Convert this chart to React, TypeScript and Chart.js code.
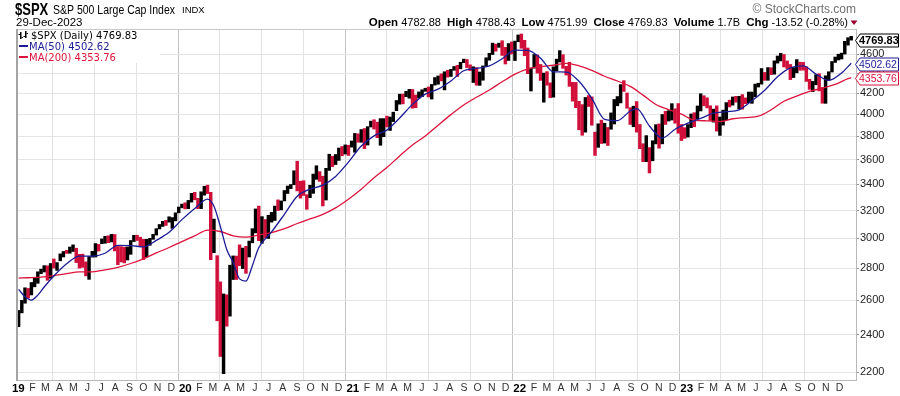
import React, { useEffect, useRef } from 'react';
import { Chart, registerables } from 'chart.js';

Chart.register(...registerables);

const FONT = '"Liberation Sans", Arial, Helvetica, sans-serif';
const LEGEND_FONT = '"DejaVu Sans", Verdana, sans-serif';

// Weekly $SPX bars (week ending Fri 4-Jan-2019 ... Fri 29-Dec-2023)
const weeklyClose = [
  2532,2596,2671,2665,2707,2708,2776,2793,2804,2743,2822,2801,2834,2893,2907,2905,2940,2946,2881,2860,2826,2752,2873,2887,2950,2942,2990,3014,2977,3026,2932,2919,2889,2847,2926,2979,3007,2992,2962,2952,2970,2986,3023,3067,3093,3120,3110,3141,3146,3169,3221,3240,
  3235,3265,3330,3295,3226,3328,3380,3338,2954,2972,2711,2305,2541,2489,2790,2875,2837,2831,2930,2864,2955,3044,3194,3041,3098,3009,3130,3185,3225,3216,3271,3351,3373,3397,3508,3427,3341,3319,3298,3348,3477,3484,3465,3270,3509,3585,3558,3638,3699,3663,3709,3703,3756,
  3825,3768,3841,3714,3887,3935,3907,3811,3842,3943,3913,3975,4020,4129,4185,4180,4181,4233,4174,4156,4204,4230,4247,4166,4281,4352,4370,4327,4412,4395,4437,4468,4442,4509,4535,4459,4433,4455,4357,4391,4471,4545,4605,4698,4683,4698,4595,4538,4712,4621,4726,4766,
  4677,4663,4398,4432,4501,4419,4349,4385,4329,4204,4463,4543,4546,4488,4393,4272,4132,4123,4024,3901,4158,4109,3901,3675,3912,3825,3899,3863,3962,4130,4145,4280,4228,4058,3924,4067,3873,3693,3586,3640,3583,3753,3901,3771,3993,3965,4026,4072,3934,3852,3845,3840,
  3895,3999,3973,4071,4136,4090,4079,3970,4046,3862,3917,3971,4109,4105,4138,4134,4169,4136,4124,4192,4205,4282,4299,4410,4348,4450,4399,4505,4536,4582,4478,4464,4370,4406,4516,4457,4450,4320,4288,4309,4328,4224,4117,4358,4415,4514,4559,4595,4604,4719,4755,4770,
];
const weeklyHigh = [
  2538,2598,2675,2671,2708,2738,2776,2793,2816,2815,2830,2860,2836,2894,2910,2918,2940,2955,2932,2891,2892,2841,2876,2911,2964,2958,2996,3014,3018,3028,3027,2944,2943,2939,2941,2985,3021,3022,3008,2993,2993,3000,3028,3068,3098,3121,3128,3154,3148,3183,3226,3248,
  3258,3276,3330,3338,3292,3342,3385,3394,3338,3137,2882,2712,2637,2632,2819,2880,2879,2955,2933,2945,2981,3068,3212,3233,3155,3134,3165,3186,3233,3280,3272,3352,3387,3399,3509,3588,3425,3429,3320,3393,3482,3550,3502,3465,3529,3646,3629,3644,3699,3712,3726,3723,3760,
  3826,3823,3861,3870,3887,3937,3950,3928,3960,3960,3983,3975,4020,4130,4191,4192,4219,4238,4237,4183,4213,4234,4249,4262,4287,4356,4372,4393,4415,4430,4440,4469,4481,4513,4546,4542,4486,4466,4457,4412,4475,4560,4608,4718,4707,4718,4744,4672,4713,4731,4740,4808,
  4819,4749,4665,4453,4595,4590,4490,4401,4416,4303,4465,4546,4637,4593,4471,4513,4308,4307,4123,4091,4159,4178,4165,3838,3913,3946,3918,3880,4013,4140,4168,4285,4325,4203,4062,4076,4120,3907,3736,3807,3703,3762,3905,3912,3998,4028,4034,4100,4052,4101,3906,3878,
  3906,4003,4015,4078,4195,4176,4156,4080,4048,4079,3975,4039,4110,4133,4164,4170,4170,4187,4155,4212,4212,4290,4299,4448,4408,4458,4456,4528,4579,4607,4595,4527,4490,4458,4541,4514,4512,4466,4338,4317,4385,4394,4256,4374,4415,4521,4568,4598,4610,4738,4778,4793,
];
const weeklyLow = [
  2444,2524,2581,2612,2631,2681,2703,2764,2775,2722,2735,2800,2785,2848,2873,2897,2898,2910,2836,2800,2805,2750,2728,2872,2873,2913,2963,2966,2970,2975,2914,2822,2840,2834,2853,2891,2978,2985,2946,2856,2874,2952,2993,3023,3066,3084,3091,3115,3070,3124,3183,3220,
  3212,3214,3263,3281,3214,3214,3316,3328,2855,2902,2478,2281,2192,2447,2505,2727,2727,2816,2797,2766,2873,2969,3038,2984,2966,3003,2999,3115,3127,3200,3205,3272,3329,3367,3397,3349,3293,3314,3209,3297,3330,3440,3424,3234,3279,3512,3543,3560,3594,3633,3648,3636,3707,
  3663,3749,3749,3694,3725,3884,3865,3789,3723,3798,3884,3853,3933,4034,4095,4098,4167,4152,4057,4062,4155,4167,4219,4164,4144,4280,4289,4322,4233,4360,4367,4430,4367,4445,4509,4458,4427,4306,4279,4278,4329,4470,4535,4595,4630,4672,4585,4495,4532,4600,4531,4733,
  4662,4582,4395,4222,4452,4401,4327,4114,4279,4157,4162,4425,4516,4450,4381,4268,4124,4062,3859,3810,3838,4073,3900,3636,3705,3738,3742,3721,3864,3911,4080,4107,4218,4057,3907,3886,3838,3693,3584,3584,3491,3591,3735,3698,3735,3907,3938,3947,3918,3828,3764,3783,
  3794,3878,3886,3958,4031,4080,4060,3944,3928,3847,3809,3901,3949,4069,4086,4114,4049,4048,4099,4109,4103,4166,4261,4290,4328,4328,4385,4390,4504,4527,4464,4448,4335,4356,4404,4430,4431,4317,4238,4216,4284,4223,4104,4103,4329,4412,4511,4537,4547,4600,4696,4751,
];

// Moving averages, at week numbers (1 = first week)
const ma50Week = [1,3,5,7,9,12,16,20,24,28,32,36,40,44,48,52,56,60,62,64,66,68,70,72,74,76,80,84,88,92,96,100,104,108,112,116,120,124,128,132,136,140,144,148,152,156,160,164,168,172,176,180,184,188,192,194,198,202,206,210,214,218,222,226,230,234,238,242,246,250,254,258,261];
const ma50Value = [2665,2620,2600,2630,2680,2749,2828,2879,2878,2898,2951,2950,2941,2986,3042,3133,3215,3286,3232,3084,2924,2836,2731,2717,2816,2936,3045,3172,3308,3363,3394,3463,3580,3716,3805,3856,3966,4093,4192,4241,4322,4425,4449,4476,4550,4642,4639,4555,4414,4412,4319,4150,3953,3942,4031,4053,3893,3786,3864,3919,3962,4010,4025,4042,4128,4230,4363,4454,4476,4391,4327,4402,4503];
const ma200Week = [1,4,8,12,16,20,24,28,32,36,40,44,48,52,56,60,64,68,72,76,80,84,88,92,96,100,104,108,112,116,120,124,128,132,136,140,144,148,152,156,160,164,168,172,176,180,184,188,192,196,200,204,208,212,216,220,224,228,232,236,240,244,248,252,256,260,261];
const ma200Value = [2736,2738,2742,2752,2765,2775,2776,2788,2805,2830,2861,2900,2937,2977,3017,3058,3048,3018,3008,3023,3040,3068,3105,3138,3172,3220,3285,3362,3453,3535,3632,3725,3803,3900,3997,4088,4161,4232,4313,4390,4445,4468,4482,4502,4476,4429,4369,4321,4267,4182,4092,4043,4001,3945,3940,3933,3959,3970,3982,4042,4123,4173,4218,4250,4287,4345,4354];

const yTickValues = [2200, 2400, 2600, 2800, 3000, 3200, 3400, 3600, 3800, 4000, 4200, 4400, 4600];
const monthInitials = ['J', 'F', 'M', 'A', 'M', 'J', 'J', 'A', 'S', 'O', 'N', 'D'];
const axisYears = [2019, 2020, 2021, 2022, 2023];

const endValues = [4769.83, 4502.62, 4353.76];
const quoteLabels = ['Open', 'High', 'Low', 'Close', 'Volume', 'Chg'];
const quoteValues = ['4782.88', '4788.43', '4751.99', '4769.83', '1.7B', '-13.52 (-0.28%)'];

const BAR_UP = '#000000';
const BAR_DOWN = '#d0103a';
const MA50_COLOR = '#1c1c96';
const MA200_COLOR = '#dc143c';

const BASE = Date.UTC(2018, 11, 29);
const monthTicks: { v: number; label: string; m: number }[] = [];
axisYears.forEach((y) =>
  monthInitials.forEach((l, m) =>
    monthTicks.push({ v: (Date.UTC(y, m, 1) - BASE) / 604800000, label: m === 0 ? String(y).slice(2) : l, m })
  )
);

const overlayPlugin = {
  id: 'overlay',
  afterDraw(chart: any) {
    const { ctx, chartArea: a } = chart;
    const ys = chart.scales.y;
    ctx.save();
    // plot frame
    ctx.strokeStyle = '#c8c8c8';
    ctx.lineWidth = 1;
    ctx.beginPath();
    ctx.moveTo(a.left, a.top + 0.5);
    ctx.lineTo(a.right, a.top + 0.5);
    ctx.stroke();
    ctx.fillStyle = '#a4a4a4';
    ctx.fillRect(a.left - 1, a.top, 2, a.bottom - a.top + 1);

    // in-plot legend
    ctx.fillStyle = '#ffffff';
    ctx.fillRect(a.left + 1, a.top + 1, 142, 33);
    ctx.textBaseline = 'alphabetic';
    ctx.textAlign = 'left';
    ctx.font = `10px ${LEGEND_FONT}`;
    ctx.fillStyle = '#000';
    ctx.fillRect(20, 32, 1.5, 7);
    ctx.fillRect(18.5, 34, 1.5, 1);
    ctx.fillRect(21.5, 37, 1.5, 1);
    ctx.fillRect(25, 31, 1.5, 7);
    ctx.fillRect(23.5, 36, 1.5, 1);
    ctx.fillRect(26.5, 33, 1.5, 1);
    ctx.fillText(`$SPX (Daily) ${endValues[0].toFixed(2)}`, 31, 39);
    ctx.fillStyle = MA50_COLOR;
    ctx.fillRect(19, 45, 9, 2);
    ctx.fillText(`MA(50) ${endValues[1].toFixed(2)}`, 29, 50);
    ctx.fillStyle = MA200_COLOR;
    ctx.fillRect(19, 56, 9, 2);
    ctx.fillText(`MA(200) ${endValues[2].toFixed(2)}`, 29, 61);

    // right-axis value flags
    const flags = [
      { v: endValues[0], color: '#000', font: `bold 11px ${FONT}`, dy: 2 },
      { v: endValues[1], color: MA50_COLOR, font: `10.5px ${FONT}`, dy: 0.5 },
      { v: endValues[2], color: MA200_COLOR, font: `10.5px ${FONT}`, dy: 0 },
    ];
    flags.forEach((f) => {
      const y = Math.round(ys.getPixelForValue(f.v) + f.dy) + 0.5;
      ctx.beginPath();
      ctx.moveTo(a.right - 0.5, y);
      ctx.lineTo(a.right + 4, y - 6.5);
      ctx.lineTo(898.5, y - 6.5);
      ctx.lineTo(898.5, y + 6.5);
      ctx.lineTo(a.right + 4, y + 6.5);
      ctx.closePath();
      ctx.fillStyle = '#fff';
      ctx.fill();
      ctx.strokeStyle = f.color;
      ctx.lineWidth = 1;
      ctx.stroke();
      ctx.fillStyle = f.color;
      ctx.font = f.font;
      ctx.textBaseline = 'middle';
      ctx.fillText(f.v.toFixed(2), a.right + 3, y + 0.5);
    });

    // header
    ctx.textBaseline = 'alphabetic';
    ctx.fillStyle = '#000';
    ctx.save();
    ctx.translate(15, 15);
    ctx.scale(1, 1.25);
    ctx.font = `bold 13px ${FONT}`;
    ctx.fillText('$SPX', 0, 0);
    ctx.restore();
    ctx.save();
    ctx.translate(53, 14);
    ctx.scale(1, 1.18);
    ctx.font = `10.5px ${FONT}`;
    ctx.fillText('S&P 500 Large Cap Index', 0, 0);
    ctx.restore();
    ctx.font = `9.5px ${FONT}`;
    ctx.fillText('INDX', 182, 13);
    ctx.font = `11.5px ${FONT}`;
    ctx.fillText('29-Dec-2023', 16, 26);

    const bold = `bold 11.5px ${FONT}`;
    const norm = `11px ${FONT}`;
    const segs: [string, string][] = [];
    quoteLabels.forEach((l, i) => {
      segs.push([l, bold]);
      segs.push([' ' + quoteValues[i] + (i < quoteLabels.length - 1 ? '  ' : ''), norm]);
    });
    let total = 0;
    segs.forEach(([t, f]) => {
      ctx.font = f;
      total += ctx.measureText(t).width;
    });
    let x = 848 - total;
    segs.forEach(([t, f]) => {
      ctx.font = f;
      ctx.fillText(t, x, 26);
      x += ctx.measureText(t).width;
    });
    ctx.fillStyle = '#99002a';
    ctx.beginPath();
    ctx.moveTo(850.5, 20.5);
    ctx.lineTo(857.5, 20.5);
    ctx.lineTo(854, 25);
    ctx.closePath();
    ctx.fill();

    ctx.fillStyle = '#707070';
    ctx.font = `12px ${FONT}`;
    ctx.textAlign = 'right';
    ctx.fillText('\u00A9 StockCharts.com', 856, 13);
    ctx.restore();
  },
};

export default function App() {
  const ref = useRef<HTMLCanvasElement | null>(null);
  useEffect(() => {
    if (!ref.current) return;
    const bars = weeklyClose.map((c, i) => ({ x: i + 0.5, y: [weeklyLow[i], weeklyHigh[i]] }));
    const barColors = weeklyClose.map((c, i) => (i > 0 && c < weeklyClose[i - 1] ? BAR_DOWN : BAR_UP));
    const ma50 = ma50Week.map((w, i) => ({ x: w - 0.5, y: ma50Value[i] }));
    const ma200 = ma200Week.map((w, i) => ({ x: w - 0.5, y: ma200Value[i] }));

    const chart = new Chart(ref.current, {
      type: 'bar',
      data: {
        datasets: [
          {
            type: 'line',
            data: ma50,
            borderColor: MA50_COLOR,
            borderWidth: 1.3,
            pointRadius: 0,
            cubicInterpolationMode: 'monotone',
            order: 1,
          } as any,
          {
            type: 'line',
            data: ma200,
            borderColor: MA200_COLOR,
            borderWidth: 1.3,
            pointRadius: 0,
            cubicInterpolationMode: 'monotone',
            order: 2,
          } as any,
          {
            type: 'bar',
            data: bars,
            backgroundColor: barColors,
            borderWidth: 0,
            barThickness: 2.8,
            grouped: false,
            order: 3,
          } as any,
        ],
      },
      options: {
        animation: false,
        responsive: true,
        maintainAspectRatio: false,
        devicePixelRatio: 1,
        events: [],
        layout: { padding: { top: 29, left: 17, right: 0, bottom: 0 } },
        plugins: { legend: { display: false }, tooltip: { enabled: false }, title: { display: false } },
        scales: {
          x: {
            type: 'linear',
            min: 0,
            max: 262,
            offset: false,
            afterBuildTicks: (s: any) => {
              s.ticks = monthTicks.map((t) => ({ value: t.v }));
            },
            afterFit: (s: any) => {
              s.height = 16;
            },
            ticks: {
              autoSkip: false,
              maxRotation: 0,
              padding: 2,
              callback: (_v: any, i: number) => monthTicks[i]?.label ?? '',
              font: (c: any) =>
                monthTicks[c.index]?.m === 0
                  ? { family: FONT, size: 11.5, weight: 'bold' }
                  : { family: FONT, size: 10.5, weight: 'normal' },
              color: (c: any) => (monthTicks[c.index]?.m === 0 ? '#000' : '#333'),
            },
            grid: {
              drawTicks: false,
              color: (c: any) => {
                const t = monthTicks[c.index];
                if (!t) return 'rgba(0,0,0,0)';
                if (t.m === 0) return '#c4c4c4';
                if (t.m % 3 === 0) return '#e2e2e2';
                return 'rgba(0,0,0,0)';
              },
            },
            border: { color: '#b8b8b8' },
          } as any,
          y: {
            type: 'logarithmic',
            position: 'right',
            min: 2160,
            max: 4875,
            afterBuildTicks: (s: any) => {
              s.ticks = yTickValues.map((v) => ({ value: v }));
            },
            afterFit: (s: any) => {
              s.width = 44;
            },
            ticks: {
              callback: (v: any) => String(v),
              font: { family: FONT, size: 11 },
              color: '#222',
              padding: 1,
            },
            grid: { color: '#e4e4e4', tickColor: '#909090', tickLength: 3 },
            border: { color: '#b8b8b8' },
          } as any,
        },
      },
      plugins: [overlayPlugin],
    });
    return () => chart.destroy();
  }, []);

  return (
    <div style={{ position: 'absolute', left: 0, top: 0, width: 900, height: 396, background: '#fff' }}>
      <canvas ref={ref} />
    </div>
  );
}
